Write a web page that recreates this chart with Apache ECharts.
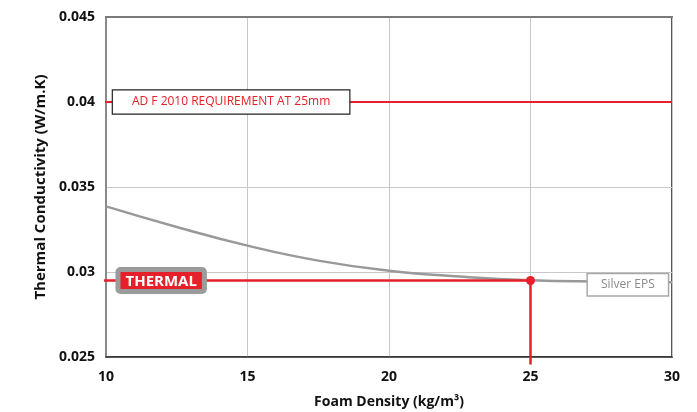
<!DOCTYPE html>
<html>
<head>
<meta charset="utf-8">
<script src="https://cdn.jsdelivr.net/npm/echarts@6/dist/echarts.min.js"></script>
<style>
  html, body { margin: 0; padding: 0; background: #fff; }
  #chart { width: 697px; height: 412px; }
</style>
</head>
<body>
<div id="chart"></div>
<script>
// Foam density (kg/m3) against thermal conductivity (W/m.K) for Silver EPS
const densities = [10, 12.5, 15, 17.5, 20, 22.5, 25, 27.5, 30];
const conductivity = [0.03386, 0.03265, 0.03155, 0.03067, 0.03008, 0.02973, 0.02951, 0.02944, 0.0294];

// Reference levels
const requirementValue = 0.04;        // AD F 2010 requirement at 25mm
const thermalValue = 0.0295;          // THERMAL product
const thermalDensity = 25;

// Axis tick labels
const xTicks = ['10', '15', '20', '25', '30'];
const yTicks = ['0.025', '0.03', '0.035', '0.04', '0.045'];

const RED = '#e5202a';
const FONT = '"Open Sans", "Noto Sans", sans-serif';

const chart = echarts.init(document.getElementById('chart'));

chart.setOption({
  animation: false,
  textStyle: { fontFamily: FONT },
  grid: {
    left: 106, right: 25, top: 17, bottom: 55,
    containLabel: false, outerBoundsMode: 'none',
    show: true, borderColor: '#222', borderWidth: 1.5
  },
  xAxis: [{
    type: 'value', min: 10, max: 30, interval: 5,
    name: 'Foam Density (kg/m³)', nameLocation: 'middle', nameGap: 38,
    nameTextStyle: { fontSize: 14, fontWeight: 'bold', color: '#111', fontFamily: FONT },
    axisLine: { show: true, lineStyle: { color: '#333', width: 1.5 } },
    axisTick: { show: false },
    axisLabel: {
      margin: 13, fontSize: 14, fontWeight: 'bold', color: '#111', fontFamily: FONT,
      formatter: (v) => xTicks[Math.round((v - 10) / 5)]
    },
    splitLine: { show: true, lineStyle: { color: '#c8c8c8', width: 1 } }
  }, {
    type: 'value', min: 10, max: 30, position: 'top',
    axisLine: { show: true, lineStyle: { color: '#7a7a7a', width: 2 } },
    axisTick: { show: false }, axisLabel: { show: false }, splitLine: { show: false }
  }],
  yAxis: {
    type: 'value', min: 0.025, max: 0.045, interval: 0.005,
    name: 'Thermal Conductivity (W/m.K)', nameLocation: 'middle', nameGap: 57,
    nameTextStyle: { fontSize: 15, fontWeight: 'bold', color: '#111', fontFamily: FONT },
    axisLine: { show: true, lineStyle: { color: '#8a8a8a', width: 2 } },
    axisTick: { show: false },
    axisLabel: {
      margin: 11, fontSize: 14, fontWeight: 'bold', color: '#111', fontFamily: FONT,
      formatter: (v) => yTicks[Math.round((v - 0.025) / 0.005)]
    },
    splitLine: { show: true, lineStyle: { color: '#c8c8c8', width: 1 } }
  },
  series: [
    {
      name: 'Silver EPS',
      type: 'line',
      smooth: true,
      showSymbol: false,
      data: densities.map((d, i) => [d, conductivity[i]]),
      lineStyle: { color: '#999', width: 2.5 },
      z: 2
    },
    {
      name: 'Requirement',
      type: 'line',
      clip: false,
      showSymbol: false,
      data: [[9.75, requirementValue], [30, requirementValue]],
      lineStyle: { color: RED, width: 2 },
      z: 3
    },
    {
      name: 'Thermal',
      type: 'line',
      clip: false,
      showSymbol: false,
      data: [[9.75, thermalValue], [thermalDensity, thermalValue], [thermalDensity, 0.02456]],
      lineStyle: { color: RED, width: 2.5 },
      z: 3
    },
    {
      name: 'Thermal point',
      type: 'scatter',
      symbolSize: 9,
      itemStyle: { color: RED, opacity: 1 },
      data: [[thermalDensity, thermalValue]],
      z: 4
    },
    {
      name: 'Labels',
      type: 'scatter',
      symbolSize: 0,
      silent: true,
      itemStyle: { opacity: 1 },
      z: 10,
      data: [
        {
          value: [14.42, requirementValue],
          label: {
            show: true, position: 'inside',
            formatter: 'AD F 2010 REQUIREMENT AT 25mm',
            color: RED, fontSize: 12, fontFamily: FONT,
            backgroundColor: '#fff', borderColor: '#222', borderWidth: 1.2,
            padding: [6, 19, 5, 19]
          }
        },
        {
          value: [11.95, thermalValue],
          label: {
            show: true, position: 'inside',
            formatter: '{t|THERMAL}',
            backgroundColor: '#9b9b9b', borderRadius: 5,
            padding: 5,
            rich: {
              t: {
                color: '#fff', fontSize: 15, fontWeight: 'bold', fontFamily: FONT,
                backgroundColor: RED, padding: [2, 5, 0, 5], lineHeight: 17
              }
            }
          }
        },
        {
          value: [28.44, 0.02942],
          label: {
            show: true, position: 'inside', offset: [0, 3],
            formatter: 'Silver EPS',
            color: '#8a8a8a', fontSize: 12, fontFamily: FONT,
            backgroundColor: '#fff', borderColor: '#a8a8a8', borderWidth: 1.5,
            padding: [5, 13, 4, 13]
          }
        }
      ]
    }
  ]
});
</script>
</body>
</html>
